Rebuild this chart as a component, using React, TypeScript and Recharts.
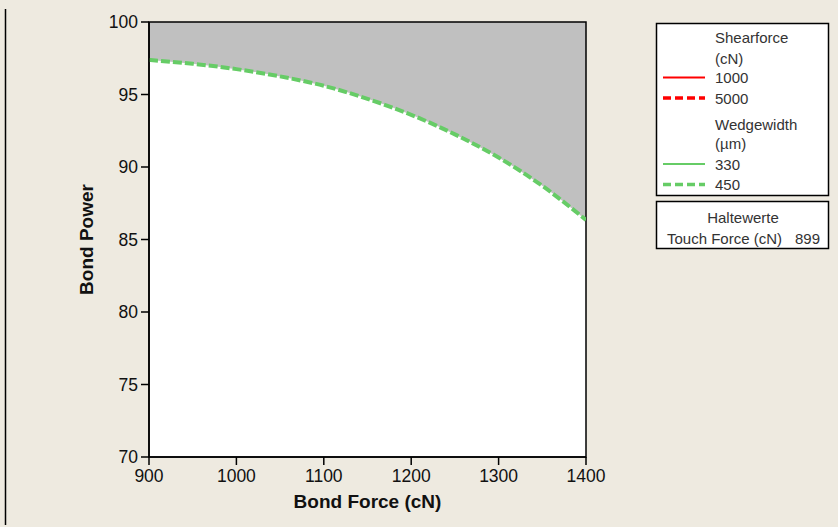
import React from 'react';
import { ComposedChart, Area, Line, XAxis, YAxis, CartesianGrid, ReferenceArea } from 'recharts';

const bondForce = [900, 950, 1000, 1050, 1100, 1150, 1200, 1250, 1300, 1350, 1400];
const bondPower = [97.38, 97.12, 96.75, 96.25, 95.6, 94.7, 93.6, 92.25, 90.65, 88.7, 86.35];
const xTicks = [900, 1000, 1100, 1200, 1300, 1400];
const yTicks = [70, 75, 80, 85, 90, 95, 100];
const shearforceLevels = ['1000', '5000'];
const wedgewidthLevels = ['330', '450'];
const holdLabel = 'Touch Force (cN)';
const holdValue = '899';

const data = bondForce.map((x, i) => ({ x, power: bondPower[i], range: [bondPower[i], 100] }));

const FONT = '"Liberation Sans", Arial, sans-serif';
const GREEN = '#66CC66';
const RED = '#FF0000';

export default function App() {
  return (
    <div style={{ position: 'absolute', left: 0, top: 0, width: 838, height: 527, background: '#EEEAE0', fontFamily: FONT, overflow: 'hidden' }}>
      <ComposedChart width={838} height={527} data={data} margin={{ top: 22, right: 252, bottom: 0, left: 0 }}>
        <CartesianGrid horizontal={false} vertical={false} fill="#FFFFFF" />
        <XAxis
          type="number"
          dataKey="x"
          domain={[900, 1400]}
          ticks={xTicks}
          allowDataOverflow
          height={70}
          tickSize={8}
          tickMargin={5}
          axisLine={{ stroke: '#000', strokeWidth: 1.5 }}
          tickLine={{ stroke: '#000', strokeWidth: 1.5 }}
          tick={{ fill: '#111', fontSize: 17.5, fontFamily: FONT }}
          label={{ value: 'Bond Force (cN)', position: 'insideBottom', offset: 19, fill: '#111', fontSize: 19, fontWeight: 'bold', fontFamily: FONT }}
        />
        <YAxis
          type="number"
          domain={[70, 100]}
          ticks={yTicks}
          allowDataOverflow
          width={149}
          tickSize={8}
          tickMargin={3}
          axisLine={{ stroke: '#000', strokeWidth: 1.5 }}
          tickLine={{ stroke: '#000', strokeWidth: 1.5 }}
          tick={{ fill: '#111', fontSize: 17.5, fontFamily: FONT }}
        />
        <Area type="monotone" dataKey="range" fill="#C0C0C0" fillOpacity={1} stroke="none" isAnimationActive={false} />
        <Line type="monotone" dataKey="power" stroke={GREEN} strokeWidth={4} strokeDasharray="9 3" dot={false} isAnimationActive={false} />
        <ReferenceArea x1={900} x2={1400} y1={70} y2={100} fill="none" stroke="#000" strokeWidth={1.5} ifOverflow="visible" />
      </ComposedChart>
      <svg width={838} height={527} style={{ position: 'absolute', left: 0, top: 0, pointerEvents: 'none' }}>
        <line x1={5.5} y1={9} x2={5.5} y2={525} stroke="#000" strokeWidth={1.5} />
        <text x={0} y={0} transform="translate(93,239.5) rotate(-90)" textAnchor="middle" fontSize={19} fontWeight="bold" fill="#111" fontFamily={FONT}>Bond Power</text>
        <rect x={656.5} y={23.5} width={172} height={172} fill="#FFFFFF" stroke="#000" strokeWidth={1.5} />
        <g fontSize={15} fill="#333" fontFamily={FONT}>
          <text x={715} y={37.5} dominantBaseline="central">Shearforce</text>
          <text x={715} y={58} dominantBaseline="central">(cN)</text>
          <line x1={663} y1={77.5} x2={705} y2={77.5} stroke={RED} strokeWidth={2} />
          <text x={715} y={77.5} dominantBaseline="central">{shearforceLevels[0]}</text>
          <line x1={663} y1={98} x2={705} y2={98} stroke={RED} strokeWidth={3.5} strokeDasharray="8 4" />
          <text x={715} y={98} dominantBaseline="central">{shearforceLevels[1]}</text>
          <text x={715} y={124} dominantBaseline="central">Wedgewidth</text>
          <text x={715} y={143.5} dominantBaseline="central">(µm)</text>
          <line x1={663} y1={164} x2={705} y2={164} stroke={GREEN} strokeWidth={2} />
          <text x={715} y={164} dominantBaseline="central">{wedgewidthLevels[0]}</text>
          <line x1={663} y1={184.5} x2={705} y2={184.5} stroke={GREEN} strokeWidth={3.5} strokeDasharray="8 4" />
          <text x={715} y={184.5} dominantBaseline="central">{wedgewidthLevels[1]}</text>
        </g>
        <rect x={656.5} y={201.5} width={172} height={47} fill="#FFFFFF" stroke="#000" strokeWidth={1.5} />
        <g fontSize={15} fill="#333" fontFamily={FONT}>
          <text x={743} y={217.5} textAnchor="middle" dominantBaseline="central">Haltewerte</text>
          <text x={667} y={238} dominantBaseline="central">{holdLabel}</text>
          <text x={820} y={238} textAnchor="end" dominantBaseline="central">{holdValue}</text>
        </g>
      </svg>
    </div>
  );
}
